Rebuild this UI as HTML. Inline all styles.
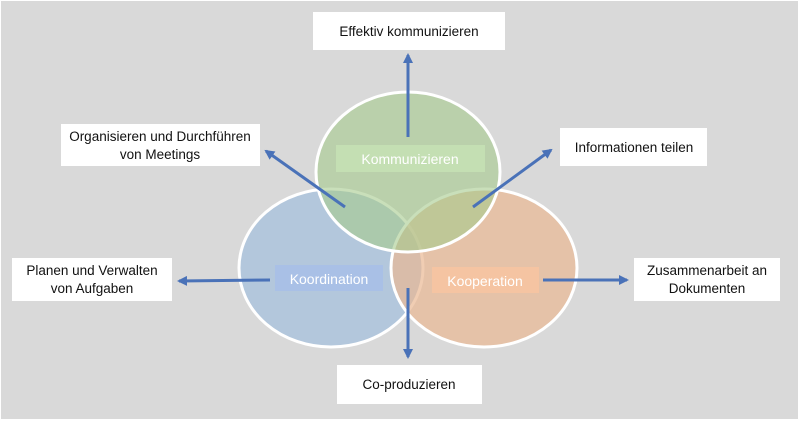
<!DOCTYPE html>
<html><head><meta charset="utf-8"><style>
html,body{margin:0;padding:0;background:#fff;}
svg{display:block;}
text{font-family:"Liberation Sans",sans-serif;}
</style></head><body>
<svg width="800" height="421" viewBox="0 0 800 421" xmlns="http://www.w3.org/2000/svg">
<defs>
<marker id="a" markerWidth="10" markerHeight="10" refX="8" refY="5" orient="auto" markerUnits="userSpaceOnUse">
<path d="M0,0 L10,5 L0,10 z" fill="#4a72b8"/>
</marker>
</defs>
<rect x="1" y="1" width="797" height="418" fill="#d9d9d9"/>
<ellipse cx="331" cy="268" rx="92" ry="79" fill="#a6c0dc" fill-opacity="0.75" stroke="#fff" stroke-width="3"/>
<ellipse cx="484" cy="268" rx="93" ry="79" fill="#eab893" fill-opacity="0.7" stroke="#fff" stroke-width="3"/>
<ellipse cx="408" cy="172" rx="92" ry="80" fill="#a5c98c" fill-opacity="0.6" stroke="#fff" stroke-width="3"/>
<rect x="336" y="145" width="149" height="27" fill="#c5e0b4" fill-opacity="0.9"/>
<rect x="275" y="265" width="108" height="26" fill="#a9c0e6"/>
<rect x="432" y="267" width="107" height="26" fill="#f5c4a2"/>
<text x="410" y="164" font-size="14" fill="#fff" text-anchor="middle">Kommunizieren</text>
<text x="329" y="284" font-size="14" fill="#fff" text-anchor="middle">Koordination</text>
<text x="485" y="286" font-size="14" fill="#fff" text-anchor="middle">Kooperation</text>
<g stroke="#4a72b8" stroke-width="3" fill="none" marker-end="url(#a)">
<line x1="408" y1="137" x2="408" y2="55"/>
<line x1="345" y1="207" x2="266" y2="151"/>
<line x1="473" y1="207" x2="551" y2="150"/>
<line x1="270" y1="280" x2="179" y2="281"/>
<line x1="543" y1="280" x2="627" y2="280"/>
<line x1="408" y1="288" x2="408" y2="357"/>
</g>
<g fill="#fff">
<rect x="313" y="12" width="192" height="38"/>
<rect x="61" y="124" width="199" height="42"/>
<rect x="560" y="128" width="147" height="38"/>
<rect x="12" y="258" width="160" height="43"/>
<rect x="634" y="258" width="146" height="43"/>
<rect x="337" y="365" width="145" height="39"/>
</g>
<g font-size="13.5" fill="#111" text-anchor="middle">
<text x="409" y="36">Effektiv kommunizieren</text>
<text x="160" y="141">Organisieren und Durchführen</text>
<text x="160" y="159">von Meetings</text>
<text x="634" y="152">Informationen teilen</text>
<text x="92" y="275">Planen und Verwalten</text>
<text x="92" y="293">von Aufgaben</text>
<text x="707" y="275">Zusammenarbeit an</text>
<text x="707" y="293">Dokumenten</text>
<text x="409" y="389">Co-produzieren</text>
</g>
</svg>
</body></html>
